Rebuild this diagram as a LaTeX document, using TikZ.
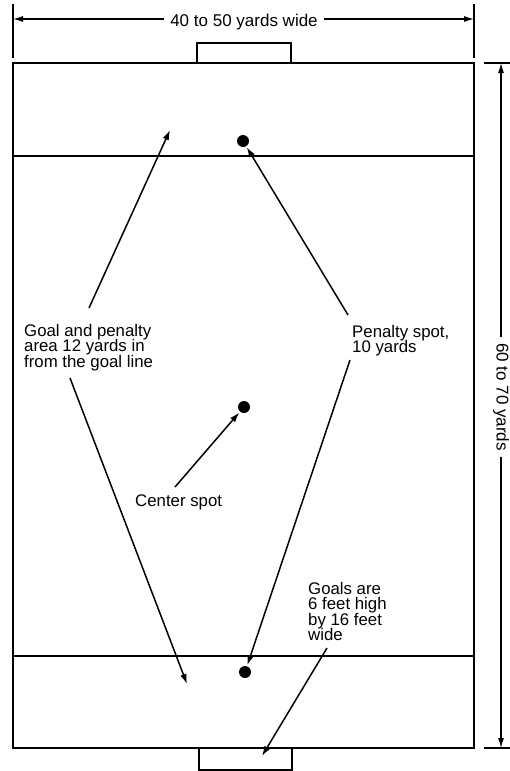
\documentclass[tikz,border=0pt]{standalone}
\usepackage{fontspec}
\setmainfont{Liberation Sans}
\usetikzlibrary{arrows.meta}
\begin{document}
\begin{tikzpicture}[x=1pt,y=-1pt,
  field/.style={line width=1.1pt},
  ptr/.style={line width=1.5pt,-{Latex[length=10pt,width=6.5pt]}},
  dimline/.style={line width=1.1pt,-{Latex[length=10pt,width=6pt]}},
  spot/.style={circle,fill,inner sep=0pt,minimum size=12pt},
  lbl/.style={font={\fontsize{16.8}{15.5}\selectfont\lineskiplimit=-100pt\lineskip=0pt}, align=left, anchor=north west, inner sep=0pt},
  dimtext/.style={font={\fontsize{17}{17}\selectfont}, inner xsep=6pt, inner ysep=0pt}]
\useasboundingbox (0,0) rectangle (510,771);
% field
\draw[field] (13,63) rectangle (474,748);
\draw[field] (13,156) -- (474,156);
\draw[field] (13,656) -- (474,656);
\draw[field] (197,63) rectangle (291,43);
\draw[field] (199,748) rectangle (292,770);
% dimension extension lines
\draw[field] (13,4) -- (13,58);
\draw[field] (474,4) -- (474,58);
\draw[field] (484,63) -- (510,63);
\draw[field] (484,748) -- (510,748);
% width dimension
\coordinate (wl) at (13,19);
\coordinate (wr) at (474,19);
\node[dimtext, anchor=base] (wtext) at (244,26) {40 to 50 yards wide};
\draw[dimline] (wtext.west |- wl) -- (wl);
\draw[dimline] (wtext.east |- wr) -- (wr);
% length dimension
\coordinate (ht) at (501,63);
\coordinate (hb) at (501,748);
\node[dimtext, rotate=-90] (htext) at (501,397) {60 to 70 yards};
\draw[dimline] (ht |- htext.west) -- (ht);
\draw[dimline] (hb |- htext.east) -- (hb);
% spots
\node[spot] (s1) at (243,141) {};
\node[spot] (s2) at (244,407) {};
\node[spot] (s3) at (245,672) {};
% labels
\node[lbl] (glabel) at (24,323.8) {Goal and penalty\\area 12 yards in\\from the goal line};
\node[lbl] (plabel) at (352,324.8) {Penalty spot,\\10 yards};
\node[lbl] (clabel) at (135,494.8) {Center spot};
\node[lbl] (golabel) at (308,581.8) {Goals are\\6 feet high\\by 16 feet\\wide};
% pointer arrows
\coordinate (g1s) at (89,308);
\coordinate (g1e) at (170,130);
\coordinate (g2s) at (70,378);
\coordinate (g2e) at (187,684);
\coordinate (p1s) at (348,315);
\coordinate (p2s) at (350,360);
\coordinate (cs) at (175,487);
\coordinate (gos) at (327,648);
\coordinate (goe) at (262,756);
\draw[ptr] (g1s) -- (g1e);
\draw[ptr] (g2s) -- (g2e);
\draw[ptr, shorten >=1pt] (p1s) -- (s1);
\draw[ptr, shorten >=1pt] (p2s) -- (s3);
\draw[ptr, shorten >=1pt] (cs) -- (s2);
\draw[ptr] (gos) -- (goe);
\end{tikzpicture}
\end{document}
